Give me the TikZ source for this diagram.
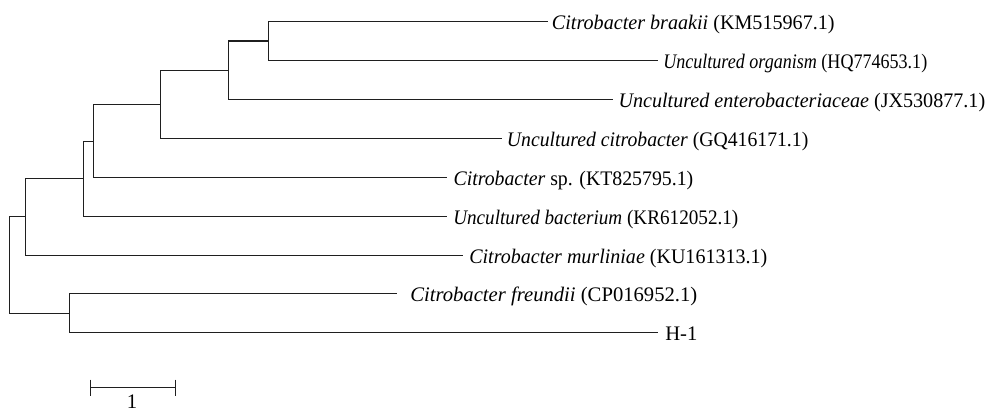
\documentclass[tikz,border=0pt]{standalone}
\usepackage{graphicx}
\usepackage{fontspec}
\setmainfont{Liberation Serif}
\newcommand{\fitlab}[2]{\resizebox{#1}{\height}{#2}}
\begin{document}
\begin{tikzpicture}[x=0.75pt,y=-0.75pt,
  br/.style={draw=black!88, line width=1.4pt},
  lbl/.style={anchor=base west, inner sep=0pt, font=\fontsize{15.5}{18}\selectfont, text=black}]
\fill[white] (0,0) rectangle (987,413);
\useasboundingbox (0,0) rectangle (987,413);
% internal nodes
\coordinate (root) at (9.5,265);
\coordinate (n6) at (25.5,216.5);
\coordinate (n5) at (83.5,178.5);
\coordinate (n4) at (93.5,141.5);
\coordinate (n3) at (160.5,104.5);
\coordinate (n2) at (228.5,70.5);
\coordinate (n1) at (268.5,41);
\coordinate (n7) at (69.5,313.5);
% leaf ends
\coordinate (l1) at (548.3,21.5);
\coordinate (l2) at (658.3,60.5);
\coordinate (l3) at (613.3,99.5);
\coordinate (l4) at (501.7,138.5);
\coordinate (l5) at (446.7,177.5);
\coordinate (l6) at (447,216.5);
\coordinate (l7) at (463.3,255.5);
\coordinate (l8) at (396.7,293.5);
\coordinate (l9) at (658.3,332.5);
% branches
\draw[br] (root) |- (n6);
\draw[br] (root) |- (n7);
\draw[br] (n6) |- (n5);
\draw[br] (n6) |- (l7);
\draw[br] (n5) |- (n4);
\draw[br] (n5) |- (l6);
\draw[br] (n4) |- (n3);
\draw[br] (n4) |- (l5);
\draw[br] (n3) |- (n2);
\draw[br] (n3) |- (l4);
\draw[br] (n2) |- (n1);
\draw[br] (n2) |- (l3);
\draw[br] (n1) |- (l1);
\draw[br] (n1) |- (l2);
\draw[br] (n7) |- (l8);
\draw[br] (n7) |- (l9);
% labels
\node[lbl] (t1) at (551.7,29.5) {\fitlab{212pt}{\textit{Citrobacter braakii} (KM515967.1)}};
\node[lbl] (t2) at (663,68.5) {\fitlab{198pt}{\textit{Uncultured organism} (HQ774653.1)}};
\node[lbl] (t3) at (618.3,107.5) {\fitlab{275pt}{\textit{Uncultured enterobacteriaceae} (JX530877.1)}};
\node[lbl] (t4) at (506.7,146.5) {\fitlab{226pt}{\textit{Uncultured citrobacter} (GQ416171.1)}};
\node[lbl] (t5) at (453.3,185.5) {\fitlab{179.8pt}{\textit{Citrobacter} sp. (KT825795.1)}};
\node[lbl] (t6) at (453,224.5) {\fitlab{213.8pt}{\textit{Uncultured bacterium} (KR612052.1)}};
\node[lbl] (t7) at (469,263.5) {\fitlab{223.5pt}{\textit{Citrobacter murliniae} (KU161313.1)}};
\node[lbl] (t8) at (410,301.5) {\fitlab{215.3pt}{\textit{Citrobacter freundii} (CP016952.1)}};
\node[lbl] (t9) at (665,340.5) {H-1};
% scale bar
\coordinate (s1) at (90.5,387.5);
\coordinate (s2) at (175.5,387.5);
\draw[br] (s1) -- (s2);
\draw[br] ([yshift=6pt]s1) -- ([yshift=-6pt]s1);
\draw[br] ([yshift=6pt]s2) -- ([yshift=-6pt]s2);
\node[lbl, anchor=base] (sl) at (132,408) {1};
\end{tikzpicture}
\end{document}
